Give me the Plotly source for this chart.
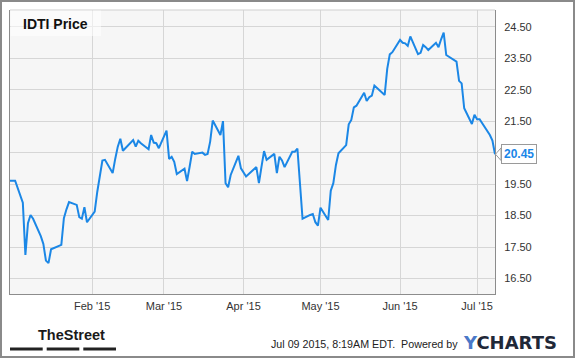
import plotly.graph_objects as go

# ---- data ----
dates = [
    "2014-12-31", "2015-01-02", "2015-01-05", "2015-01-06", "2015-01-07", "2015-01-08", "2015-01-09",
    "2015-01-12", "2015-01-13", "2015-01-14", "2015-01-15", "2015-01-16", "2015-01-20", "2015-01-21",
    "2015-01-22", "2015-01-23", "2015-01-26", "2015-01-27", "2015-01-28", "2015-01-29", "2015-01-30",
    "2015-02-02", "2015-02-03", "2015-02-04", "2015-02-05", "2015-02-06", "2015-02-09", "2015-02-10",
    "2015-02-11", "2015-02-12", "2015-02-13", "2015-02-17", "2015-02-18", "2015-02-19", "2015-02-20",
    "2015-02-23", "2015-02-24", "2015-02-25", "2015-02-26", "2015-02-27", "2015-03-02", "2015-03-03",
    "2015-03-04", "2015-03-05", "2015-03-06", "2015-03-09", "2015-03-10", "2015-03-11", "2015-03-12",
    "2015-03-13", "2015-03-16", "2015-03-17", "2015-03-18", "2015-03-19", "2015-03-20", "2015-03-23",
    "2015-03-24", "2015-03-25", "2015-03-26", "2015-03-27", "2015-03-30", "2015-03-31", "2015-04-01",
    "2015-04-02", "2015-04-06", "2015-04-07", "2015-04-08", "2015-04-09", "2015-04-10", "2015-04-13",
    "2015-04-14", "2015-04-15", "2015-04-16", "2015-04-17", "2015-04-20", "2015-04-21", "2015-04-22",
    "2015-04-23", "2015-04-24", "2015-04-27", "2015-04-28", "2015-04-29", "2015-04-30", "2015-05-01",
    "2015-05-04", "2015-05-05", "2015-05-06", "2015-05-07", "2015-05-08", "2015-05-11", "2015-05-12",
    "2015-05-13", "2015-05-14", "2015-05-15", "2015-05-18", "2015-05-19", "2015-05-20", "2015-05-21",
    "2015-05-22", "2015-05-26", "2015-05-27", "2015-05-28", "2015-05-29", "2015-06-01", "2015-06-02",
    "2015-06-03", "2015-06-04", "2015-06-05", "2015-06-08", "2015-06-09", "2015-06-10", "2015-06-11",
    "2015-06-12", "2015-06-15", "2015-06-16", "2015-06-17", "2015-06-18", "2015-06-19", "2015-06-22",
    "2015-06-23", "2015-06-24", "2015-06-25", "2015-06-26", "2015-06-29", "2015-06-30", "2015-07-01",
    "2015-07-02", "2015-07-06", "2015-07-07", "2015-07-08",
]
prices = [
    19.61, 19.61, 18.91, 17.25, 18.26, 18.52, 18.40,
    17.85, 17.60, 17.07, 16.99, 17.43, 17.57, 18.42,
    18.70, 18.93, 18.84, 18.45, 18.40, 18.77, 18.29,
    18.63, 19.25, 19.70, 20.25, 20.27, 19.85, 20.30,
    20.69, 20.94, 20.56, 20.90, 20.69, 20.88, 20.80,
    20.61, 21.06, 20.82, 20.80, 20.64, 21.20, 20.30,
    20.37, 20.21, 19.82, 19.99, 19.60, 20.05, 20.53,
    20.46, 20.50, 20.43, 20.46, 20.85, 21.52, 21.06,
    21.50, 19.53, 19.40, 19.79, 20.40, 20.00, 19.85,
    19.74, 20.04, 19.53, 20.05, 20.55, 20.27, 20.46,
    19.85, 20.37, 20.25, 20.04, 20.53, 20.53, 20.63,
    19.50, 18.40, 18.52, 18.55, 18.29, 18.18, 18.75,
    18.36, 19.29, 19.53, 20.10, 20.48, 20.74, 21.40,
    21.54, 21.94, 21.99, 22.40, 22.14, 22.26, 22.31,
    22.63, 22.33, 23.16, 23.62, 23.69, 24.08, 23.99,
    23.97, 23.89, 24.19, 23.63, 23.67, 23.92, 23.85,
    23.76, 23.99, 23.85, 24.10, 24.31, 23.60, 23.46,
    23.39, 22.78, 22.70, 21.91, 21.41, 21.70, 21.56,
    21.56, 21.06, 20.88, 20.45,
]
y_ticks = [16.5, 17.5, 18.5, 19.5, 20.5, 21.5, 22.5, 23.5, 24.5]
x_ticks = ["2015-02-01", "2015-03-01", "2015-04-01", "2015-05-01", "2015-06-01", "2015-07-01"]
x_tick_labels = ["Feb '15", "Mar '15", "Apr '15", "May '15", "Jun '15", "Jul '15"]
title_text = "IDTI Price"
footer_text = "Jul 09 2015, 8:19AM EDT.  Powered by"

# ---- layout geometry (pixels) ----
W, H = 575, 358
ML, MR, MT, MB = 10, 80, 10, 64
PW, PH = W - ML - MR, H - MT - MB


def px(x):
    return (x - ML) / PW


def py(y):
    return 1 - (y - MT) / PH


FONT = "Arial, 'Liberation Sans', sans-serif"
LINE_BLUE = "#1b87e6"

last_val = prices[-1]
y_labels = ["" if v == 20.5 else f"{v:.2f}" for v in y_ticks]

fig = go.Figure()
fig.add_trace(go.Scatter(
    x=dates, y=prices, mode="lines",
    line=dict(color=LINE_BLUE, width=2),
    hoverinfo="skip", showlegend=False,
))

shapes = [
    # outer border
    dict(type="rect", xref="paper", yref="paper", x0=px(1), x1=px(574), y0=py(357), y1=py(1),
         line=dict(color="#8a8a8a", width=2), fillcolor="rgba(0,0,0,0)", layer="above"),
    # top plot border (light)
    dict(type="line", xref="paper", yref="paper", x0=0, x1=1, y0=1, y1=1,
         line=dict(color="#cfcfcf", width=1), layer="above"),
    # title box
    dict(type="rect", xref="paper", yref="paper", x0=px(10.5), x1=px(101), y0=py(36), y1=py(10.5),
         line=dict(width=0), fillcolor="rgba(255,255,255,0.55)", layer="above"),
    # TheStreet bars
    dict(type="rect", xref="paper", yref="paper", x0=px(10), x1=px(42.7), y0=py(350.5), y1=py(347.5),
         line=dict(width=0), fillcolor="#222222"),
    dict(type="rect", xref="paper", yref="paper", x0=px(46.7), x1=px(79.3), y0=py(350.5), y1=py(347.5),
         line=dict(width=0), fillcolor="#222222"),
    dict(type="rect", xref="paper", yref="paper", x0=px(83.3), x1=px(116), y0=py(350.5), y1=py(347.5),
         line=dict(width=0), fillcolor="#222222"),
    # price tag pointer
    dict(type="path", xref="paper", yref="y",
         path=f"M {px(501)},{last_val + 0.2} L {px(495.5)},{last_val} L {px(501)},{last_val - 0.2} Z",
         line=dict(color="#9a9a9a", width=1), fillcolor="white", layer="above"),
]

annotations = [
    dict(text=f"<b>{title_text}</b>", xref="paper", yref="paper", x=px(21), y=py(23.5),
         xanchor="left", yanchor="middle", showarrow=False,
         font=dict(family=FONT, size=14, color="#111111")),
    dict(text=f"<b>{last_val:.2f}</b>", xref="paper", yref="y", x=1, y=last_val,
         xanchor="left", yanchor="middle", xshift=6, showarrow=False,
         font=dict(family=FONT, size=12, color="#1a86e8"),
         bgcolor="white", bordercolor="#9a9a9a", borderwidth=1, borderpad=2),
    dict(text="<b>TheStreet</b>", xref="paper", yref="paper", x=px(36), y=py(335),
         xanchor="left", yanchor="middle", showarrow=False,
         font=dict(family="'Liberation Sans Narrow', 'Arial Narrow', sans-serif", size=14.5, color="#1a1a1a")),
    dict(text=footer_text, xref="paper", yref="paper", x=px(460), y=py(344),
         xanchor="right", yanchor="middle", showarrow=False,
         font=dict(family=FONT, size=10.7, color="#222222")),
    dict(text="<b><span style='color:#4a78c8'>Y</span>CHARTS</b>", xref="paper", yref="paper",
         x=px(461), y=py(342), xanchor="left", yanchor="middle", showarrow=False,
         font=dict(family="'DejaVu Sans', sans-serif", size=18, color="#1f2838")),
]

fig.update_layout(
    width=W, height=H,
    margin=dict(l=ML, r=MR, t=MT, b=MB, pad=0),
    paper_bgcolor="white",
    plot_bgcolor="#f6f6f6",
    font=dict(family=FONT, size=11, color="#333333"),
    shapes=shapes,
    annotations=annotations,
    xaxis=dict(
        type="date", range=["2014-12-31", "2015-07-08"],
        tickvals=x_ticks, ticktext=x_tick_labels,
        showgrid=True, gridcolor="#d6d6d6", gridwidth=1,
        showline=True, linecolor="#8c8c8c", linewidth=1,
        ticks="", ticklabelstandoff=2, zeroline=False,
        tickfont=dict(family=FONT, size=11, color="#333333"),
        fixedrange=True,
    ),
    yaxis=dict(
        side="right", range=[16.01, 25.03],
        tickvals=y_ticks, ticktext=y_labels,
        showgrid=True, gridcolor="#d6d6d6", gridwidth=1,
        showline=True, linecolor="#8c8c8c", linewidth=1, mirror=True,
        ticks="", ticklabelstandoff=6, zeroline=False,
        tickfont=dict(family=FONT, size=11, color="#333333"),
        fixedrange=True,
    ),
)

fig.write_html("out.html")
